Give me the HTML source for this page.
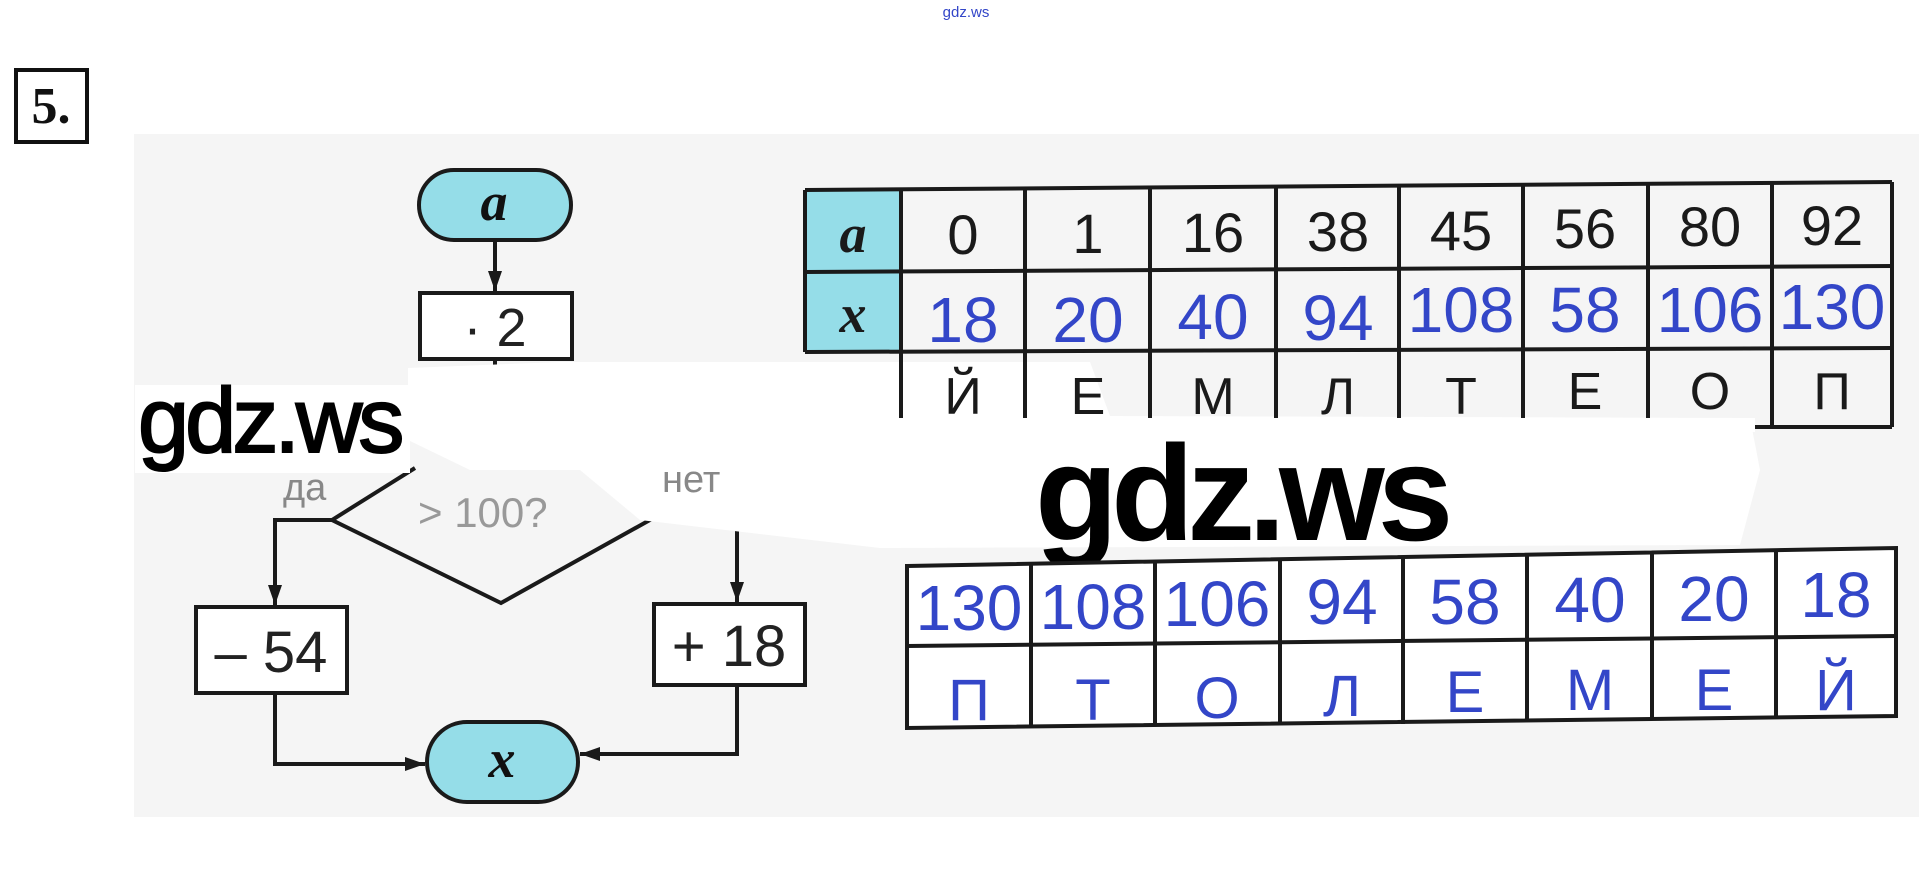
<!DOCTYPE html>
<html><head><meta charset="utf-8"><style>
html,body{margin:0;padding:0;background:#fff;}
svg{display:block;}
</style></head><body>
<svg width="1932" height="887" viewBox="0 0 1932 887" xmlns="http://www.w3.org/2000/svg" font-family="Liberation Sans, sans-serif">
<defs>
<marker id="ar2" viewBox="0 0 20 14" markerWidth="20" markerHeight="14" refX="20" refY="7" orient="auto" markerUnits="userSpaceOnUse">
<path d="M0,0 L20,7 L0,14 Z" fill="#1a1a1a"/></marker>
</defs>
<rect x="134" y="134" width="1785" height="683" fill="#f5f5f5"/>
<text x="966" y="17" font-size="15" fill="#3346c8" text-anchor="middle">gdz.ws</text>
<rect x="16" y="70" width="71" height="72" fill="#fff" stroke="#111" stroke-width="4"/>
<text x="51" y="123" font-family="Liberation Serif, serif" font-weight="bold" font-size="52" text-anchor="middle" fill="#111">5.</text>

<g stroke="#1a1a1a" stroke-width="4" fill="none">
<rect x="419" y="170" width="152" height="70" rx="35" fill="#95dde8"/>
<line x1="495" y1="240" x2="495" y2="291" marker-end="url(#ar2)"/>
<rect x="420" y="293" width="152" height="66" fill="#fff"/>
<line x1="495" y1="359" x2="495" y2="420"/>
<polyline points="415,468 332,520 501,603 666,511"/>
<polyline points="332,520 275,520 275,605" marker-end="url(#ar2)"/>
<polyline points="666,511 737,511 737,602" marker-end="url(#ar2)"/>
<rect x="196" y="607" width="151" height="86" fill="#fff"/>
<rect x="654" y="604" width="151" height="81" fill="#fff"/>
<polyline points="275,693 275,764 425,764" marker-end="url(#ar2)"/>
<polyline points="737,685 737,754 580,754" marker-end="url(#ar2)"/>
<rect x="427" y="722" width="151" height="80" rx="40" fill="#95dde8"/>
</g>
<text x="494" y="220" font-family="Liberation Serif, serif" font-style="italic" font-weight="bold" font-size="54" text-anchor="middle" fill="#111">a</text>
<text x="502" y="777" font-family="Liberation Serif, serif" font-style="italic" font-weight="bold" font-size="54" text-anchor="middle" fill="#111">x</text>
<text x="495" y="346" font-size="54" text-anchor="middle" fill="#222">· 2</text>
<text x="271" y="672" font-size="58" text-anchor="middle" fill="#222">– 54</text>
<text x="729" y="666" font-size="58" text-anchor="middle" fill="#222">+ 18</text>

<path d="M408,368 L560,362 L1090,362 L1110,416 L1750,418 L1760,470 L1740,545 L880,548 L640,520 L580,470 L470,470 L408,440 Z" fill="#fff"/>
<rect x="135" y="385" width="275" height="88" fill="#fff"/>
<text x="138" y="452" font-size="92" fill="#000" letter-spacing="-4" stroke="#000" stroke-width="2">gdz.ws</text>
<text x="283" y="500" font-size="38" fill="#888">да</text>
<text x="662" y="492" font-size="38" fill="#888">нет</text>
<text x="418" y="527" font-size="42" fill="#999">&gt; 100?</text>

<g stroke="#1a1a1a" stroke-width="4">
<rect x="805" y="188" width="96" height="164" fill="#95dde8" stroke="none"/>
<line x1="805" y1="190" x2="1892" y2="182"/>
<line x1="805" y1="272" x2="1892" y2="266"/>
<line x1="805" y1="352" x2="1892" y2="348"/>
<line x1="1748" y1="427" x2="1892" y2="427"/>
<line x1="805" y1="190" x2="805" y2="352"/>
<line x1="901" y1="188" x2="901" y2="418"/>
<line x1="1025" y1="187" x2="1025" y2="418"/>
<line x1="1150" y1="186" x2="1150" y2="418"/>
<line x1="1276" y1="186" x2="1276" y2="418"/>
<line x1="1399" y1="185" x2="1399" y2="418"/>
<line x1="1523" y1="184" x2="1523" y2="418"/>
<line x1="1648" y1="183" x2="1648" y2="418"/>
<line x1="1772" y1="183" x2="1772" y2="427"/>
<line x1="1892" y1="182" x2="1892" y2="427"/>
</g>
<g font-size="56" text-anchor="middle" fill="#1a1a1a">
<text x="853" y="252" font-family="Liberation Serif, serif" font-style="italic" font-weight="bold" font-size="54">a</text>
<text x="853" y="332" font-family="Liberation Serif, serif" font-style="italic" font-weight="bold" font-size="54">x</text>
<text x="963" y="254">0</text><text x="1088" y="253">1</text><text x="1213" y="252">16</text><text x="1338" y="251">38</text>
<text x="1461" y="250">45</text><text x="1585" y="248">56</text><text x="1710" y="246">80</text><text x="1832" y="245">92</text>
</g>
<g font-size="64" text-anchor="middle" fill="#3346c8">
<text x="963" y="342">18</text><text x="1088" y="342">20</text><text x="1213" y="339">40</text><text x="1338" y="340">94</text>
<text x="1461" y="332">108</text><text x="1585" y="332">58</text><text x="1710" y="332">106</text><text x="1832" y="329">130</text>
</g>
<g font-size="52" text-anchor="middle" fill="#1a1a1a">
<text x="963" y="414">Й</text><text x="1088" y="414">Е</text><text x="1213" y="414">М</text><text x="1338" y="414">Л</text>
<text x="1461" y="414">Т</text><text x="1585" y="409">Е</text><text x="1710" y="409">О</text><text x="1832" y="409">П</text>
</g>
<rect x="895" y="418" width="860" height="14" fill="#fff"/>

<text x="1035" y="540" font-size="136" font-weight="bold" fill="#000" letter-spacing="-7">gdz.ws</text>

<g stroke="#1a1a1a" stroke-width="4" fill="#fff">
<polygon points="907,566 1896,548 1896,716 907,728"/>
<line x1="907" y1="646" x2="1896" y2="636"/>
<line x1="1031" y1="564" x2="1031" y2="727"/>
<line x1="1155" y1="562" x2="1155" y2="726"/>
<line x1="1280" y1="560" x2="1280" y2="725"/>
<line x1="1403" y1="558" x2="1403" y2="724"/>
<line x1="1527" y1="556" x2="1527" y2="722"/>
<line x1="1652" y1="553" x2="1652" y2="720"/>
<line x1="1776" y1="551" x2="1776" y2="718"/>
</g>
<g font-size="64" text-anchor="middle" fill="#3346c8">
<text x="969" y="630">130</text><text x="1093" y="629">108</text><text x="1217" y="626">106</text><text x="1342" y="624">94</text>
<text x="1465" y="624">58</text><text x="1590" y="622">40</text><text x="1714" y="621">20</text><text x="1836" y="617">18</text>
</g>
<g font-size="58" text-anchor="middle" fill="#3346c8">
<text x="969" y="720">П</text><text x="1093" y="720">Т</text><text x="1217" y="718">О</text><text x="1342" y="716">Л</text>
<text x="1465" y="712">Е</text><text x="1590" y="710">М</text><text x="1714" y="710">Е</text><text x="1836" y="710">Й</text>
</g>
</svg>
</body></html>
